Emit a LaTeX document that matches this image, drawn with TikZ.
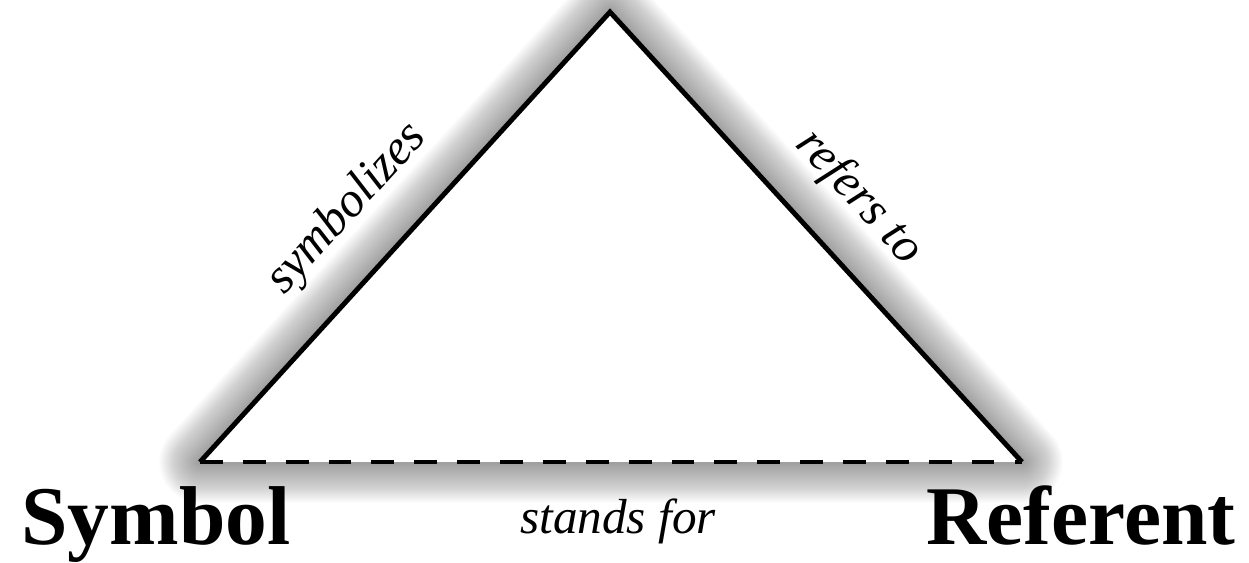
\documentclass[tikz,border=0pt]{standalone}
\usepackage{fontspec}
\setmainfont{Liberation Serif}[ItalicFont={Liberation Serif Italic},BoldFont={Liberation Serif Bold}]
\usetikzlibrary{calc}
\definecolor{GlowClr}{rgb}{0,0,0}

\begin{document}
\begin{tikzpicture}[x=0.02cm,y=-0.02cm]
\tikzset{edge/.style={line width=2.8pt,color=black},
  tagtext/.style={font=\itshape\fontsize{28}{30}\selectfont,inner sep=0pt},
  endtext/.style={font=\bfseries\fontsize{47.5}{50}\selectfont,inner sep=0pt}}
\useasboundingbox (0,0) rectangle (1249,563);

\coordinate (S) at (200,462);
\coordinate (T) at (610,12);
\coordinate (R) at (1022,462);

% soft glow round the triangle
\foreach \w [evaluate=\w as \lw using (84-2*\w)*0.567] in {1,...,40}
  \draw[GlowClr,line width=\lw pt,opacity=0.012,line join=round] (S) -- (T) -- (R) -- cycle;
\fill[white] (S) -- (T) -- (R) -- cycle;

\draw[edge,line join=miter] (S) -- (T) -- (R);
\draw[edge,dash pattern=on 13pt off 11.4pt] (S) -- (R);

\path (S) -- (T) node[tagtext,pos=0.47,sloped,above=22pt] (symbolizes) {symbolizes};
\path (T) -- (R) node[tagtext,pos=0.5,sloped,above=20pt] (refers) {refers to};
\path (S) -- (R) node[tagtext,midway,below=21pt,xshift=4pt] (stands) {stands for};

\node[endtext,anchor=base] (symbol) at ($(S)+(-44,83)$) {Symbol};
\node[endtext,anchor=base] (referent) at ($(R)+(59,83)$) {Referent};

\end{tikzpicture}
\end{document}
